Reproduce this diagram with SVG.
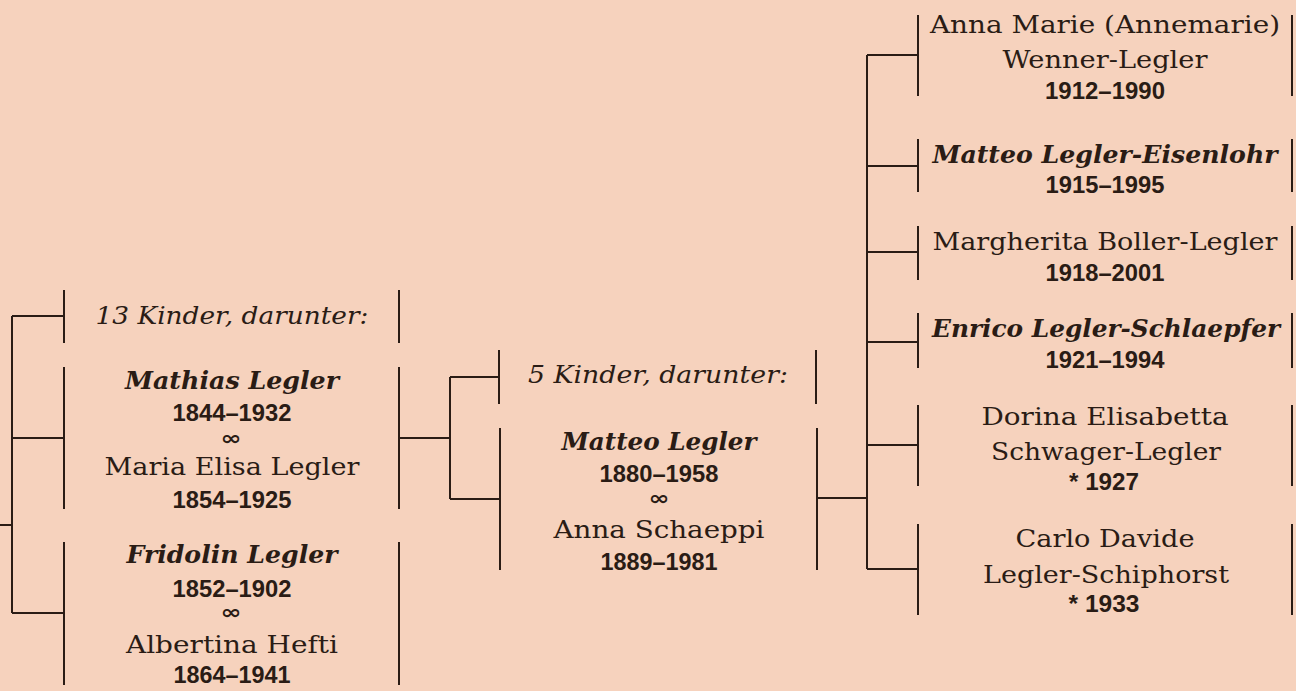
<svg xmlns="http://www.w3.org/2000/svg" width="1296" height="691" viewBox="0 0 1296 691">
<style>
.bg{fill:#F6D2BD}
.ln{stroke:#2A1C15;stroke-width:2;fill:none}
text{fill:#2A1C15;text-anchor:middle}
.s{font-family:"DejaVu Serif","Liberation Serif",serif;font-size:25px}
.i{font-family:"DejaVu Serif","Liberation Serif",serif;font-size:25px;font-style:italic}
.bi{font-family:"DejaVu Serif","Liberation Serif",serif;font-size:25px;font-style:italic;font-weight:bold}
.d{font-family:"Liberation Sans",Arial,sans-serif;font-size:23px;font-weight:bold}
.m{font-family:"DejaVu Sans",sans-serif;font-size:20px;font-weight:bold}
</style>
<rect class="bg" x="0" y="0" width="1296" height="691"/>
<g id="connectors" class="ln">
<path d="M0,525 H12 M12,316 V613 M12,316 H64 M12,438 H64 M12,613 H64"/>
<path d="M399,438 H450 M450,377 V499 M450,377 H500 M450,499 H500"/>
<path d="M817,498 H867 M867,55 V569 M867,55 H918 M867,166 H918 M867,252 H918 M867,342 H918 M867,445 H918 M867,569 H918"/>
</g>
<g id="n-13kinder">
<path class="ln" d="M64,290 V343 M399,290 V343"/>
<text class="i" x="232" y="324" textLength="273" lengthAdjust="spacingAndGlyphs">13 Kinder, darunter:</text>
</g>
<g id="n-mathias">
<path class="ln" d="M64,367 V509 M399,367 V509"/>
<text class="bi" x="232" y="389" textLength="214" lengthAdjust="spacingAndGlyphs">Mathias Legler</text>
<text class="d" x="232" y="421" textLength="119" lengthAdjust="spacingAndGlyphs">1844–1932</text>
<text class="m" x="231" y="445" textLength="21" lengthAdjust="spacingAndGlyphs">∞</text>
<text class="s" x="232" y="475" textLength="255" lengthAdjust="spacingAndGlyphs">Maria Elisa Legler</text>
<text class="d" x="232" y="508" textLength="119" lengthAdjust="spacingAndGlyphs">1854–1925</text>
</g>
<g id="n-fridolin">
<path class="ln" d="M64,542 V685 M399,542 V685"/>
<text class="bi" x="232" y="563" textLength="211" lengthAdjust="spacingAndGlyphs">Fridolin Legler</text>
<text class="d" x="232" y="597" textLength="119" lengthAdjust="spacingAndGlyphs">1852–1902</text>
<text class="m" x="231" y="619" textLength="21" lengthAdjust="spacingAndGlyphs">∞</text>
<text class="s" x="232" y="653" textLength="212" lengthAdjust="spacingAndGlyphs">Albertina Hefti</text>
<text class="d" x="232" y="683" textLength="117" lengthAdjust="spacingAndGlyphs">1864–1941</text>
</g>
<g id="n-5kinder">
<path class="ln" d="M499,350 V404 M816,350 V404"/>
<text class="i" x="658" y="383" textLength="260" lengthAdjust="spacingAndGlyphs">5 Kinder, darunter:</text>
</g>
<g id="n-matteo">
<path class="ln" d="M500,428 V570 M817,428 V570"/>
<text class="bi" x="659" y="450" textLength="195" lengthAdjust="spacingAndGlyphs">Matteo Legler</text>
<text class="d" x="659" y="482" textLength="119" lengthAdjust="spacingAndGlyphs">1880–1958</text>
<text class="m" x="659" y="505" textLength="21" lengthAdjust="spacingAndGlyphs">∞</text>
<text class="s" x="659" y="538" textLength="211" lengthAdjust="spacingAndGlyphs">Anna Schaeppi</text>
<text class="d" x="659" y="570" textLength="117" lengthAdjust="spacingAndGlyphs">1889–1981</text>
</g>
<g id="n-annamarie">
<path class="ln" d="M918,15 V96 M1292,15 V96"/>
<text class="s" x="1105" y="33" textLength="350" lengthAdjust="spacingAndGlyphs">Anna Marie (Annemarie)</text>
<text class="s" x="1105" y="68" textLength="205" lengthAdjust="spacingAndGlyphs">Wenner-Legler</text>
<text class="d" x="1105" y="99" textLength="120" lengthAdjust="spacingAndGlyphs">1912–1990</text>
</g>
<g id="n-matteo-le">
<path class="ln" d="M918,139 V192 M1292,139 V192"/>
<text class="bi" x="1105" y="163" textLength="345" lengthAdjust="spacingAndGlyphs">Matteo Legler-Eisenlohr</text>
<text class="d" x="1105" y="193" textLength="119" lengthAdjust="spacingAndGlyphs">1915–1995</text>
</g>
<g id="n-margherita">
<path class="ln" d="M918,226 V280 M1292,226 V280"/>
<text class="s" x="1105" y="250" textLength="345" lengthAdjust="spacingAndGlyphs">Margherita Boller-Legler</text>
<text class="d" x="1105" y="281" textLength="119" lengthAdjust="spacingAndGlyphs">1918–2001</text>
</g>
<g id="n-enrico">
<path class="ln" d="M918,313 V368 M1292,313 V368"/>
<text class="bi" x="1106" y="337" textLength="348" lengthAdjust="spacingAndGlyphs">Enrico Legler-Schlaepfer</text>
<text class="d" x="1105" y="368" textLength="119" lengthAdjust="spacingAndGlyphs">1921–1994</text>
</g>
<g id="n-dorina">
<path class="ln" d="M918,405 V486 M1292,405 V486"/>
<text class="s" x="1105" y="425" textLength="247" lengthAdjust="spacingAndGlyphs">Dorina Elisabetta</text>
<text class="s" x="1106" y="460" textLength="230" lengthAdjust="spacingAndGlyphs">Schwager-Legler</text>
<text class="d" x="1104" y="490" textLength="70" lengthAdjust="spacingAndGlyphs">* 1927</text>
</g>
<g id="n-carlo">
<path class="ln" d="M918,524 V615 M1292,524 V615"/>
<text class="s" x="1105" y="547" textLength="179" lengthAdjust="spacingAndGlyphs">Carlo Davide</text>
<text class="s" x="1106" y="583" textLength="246" lengthAdjust="spacingAndGlyphs">Legler-Schiphorst</text>
<text class="d" x="1104" y="612" textLength="71" lengthAdjust="spacingAndGlyphs">* 1933</text>
</g>
</svg>
